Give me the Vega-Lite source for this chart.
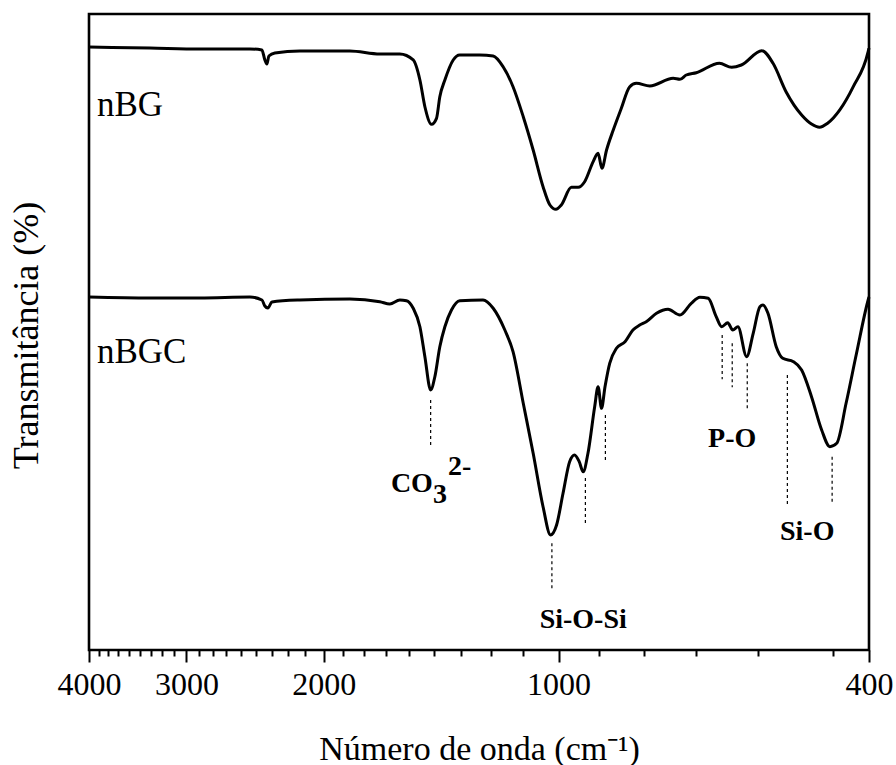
{
  "$schema": "https://vega.github.io/schema/vega-lite/v6.json",
  "width": 780,
  "height": 636,
  "autosize": {"type": "none"},
  "padding": {"left": 89, "top": 14, "right": 27, "bottom": 115},
  "background": "white",
  "datasets": {
    "spectra": [
      {"serie": "nBG", "wn": 4000, "T": 94.81}, {"serie": "nBG", "wn": 3341, "T": 94.65}, {"serie": "nBG", "wn": 2883, "T": 94.5}, {"serie": "nBG", "wn": 2487, "T": 94.5}, {"serie": "nBG", "wn": 2401, "T": 94.34}, {"serie": "nBG", "wn": 2380, "T": 92.77}, {"serie": "nBG", "wn": 2366, "T": 92.14}, {"serie": "nBG", "wn": 2352, "T": 93.4}, {"serie": "nBG", "wn": 2311, "T": 93.87}, {"serie": "nBG", "wn": 2146, "T": 94.18}, {"serie": "nBG", "wn": 1852, "T": 94.18}, {"serie": "nBG", "wn": 1695, "T": 93.71}, {"serie": "nBG", "wn": 1598, "T": 93.71}, {"serie": "nBG", "wn": 1536, "T": 92.77}, {"serie": "nBG", "wn": 1506, "T": 89.62}, {"serie": "nBG", "wn": 1484, "T": 85.42}, {"serie": "nBG", "wn": 1455, "T": 82.66}, {"serie": "nBG", "wn": 1434, "T": 83.6}, {"serie": "nBG", "wn": 1420, "T": 87.0}, {"serie": "nBG", "wn": 1399, "T": 89.62}, {"serie": "nBG", "wn": 1365, "T": 92.77}, {"serie": "nBG", "wn": 1339, "T": 93.55}, {"serie": "nBG", "wn": 1262, "T": 93.55}, {"serie": "nBG", "wn": 1213, "T": 93.4}, {"serie": "nBG", "wn": 1178, "T": 91.71}, {"serie": "nBG", "wn": 1144, "T": 88.57}, {"serie": "nBG", "wn": 1110, "T": 83.85}, {"serie": "nBG", "wn": 1078, "T": 78.62}, {"serie": "nBG", "wn": 1047, "T": 72.85}, {"serie": "nBG", "wn": 1026, "T": 69.97}, {"serie": "nBG", "wn": 1008, "T": 69.29}, {"serie": "nBG", "wn": 992, "T": 69.97}, {"serie": "nBG", "wn": 963, "T": 72.75}, {"serie": "nBG", "wn": 944, "T": 72.75}, {"serie": "nBG", "wn": 926, "T": 73.63}, {"serie": "nBG", "wn": 903, "T": 76.78}, {"serie": "nBG", "wn": 890, "T": 78.1}, {"serie": "nBG", "wn": 880, "T": 75.74}, {"serie": "nBG", "wn": 868, "T": 78.62}, {"serie": "nBG", "wn": 851, "T": 81.76}, {"serie": "nBG", "wn": 831, "T": 85.17}, {"serie": "nBG", "wn": 811, "T": 88.52}, {"serie": "nBG", "wn": 795, "T": 89.1}, {"serie": "nBG", "wn": 764, "T": 88.68}, {"serie": "nBG", "wn": 713, "T": 89.89}, {"serie": "nBG", "wn": 699, "T": 89.73}, {"serie": "nBG", "wn": 686, "T": 90.41}, {"serie": "nBG", "wn": 666, "T": 90.77}, {"serie": "nBG", "wn": 622, "T": 92.25}, {"serie": "nBG", "wn": 600, "T": 91.62}, {"serie": "nBG", "wn": 583, "T": 91.98}, {"serie": "nBG", "wn": 549, "T": 94.23}, {"serie": "nBG", "wn": 531, "T": 92.25}, {"serie": "nBG", "wn": 511, "T": 87.78}, {"serie": "nBG", "wn": 488, "T": 84.12}, {"serie": "nBG", "wn": 474, "T": 82.7}, {"serie": "nBG", "wn": 463, "T": 82.19}, {"serie": "nBG", "wn": 452, "T": 82.81}, {"serie": "nBG", "wn": 436, "T": 84.91}, {"serie": "nBG", "wn": 419, "T": 88.57}, {"serie": "nBG", "wn": 401, "T": 94.07}, {"serie": "nBG", "wn": 400, "T": 94.65},
      {"serie": "nBGC", "wn": 4000, "T": 55.5}, {"serie": "nBGC", "wn": 3341, "T": 55.35}, {"serie": "nBGC", "wn": 2883, "T": 55.35}, {"serie": "nBGC", "wn": 2487, "T": 55.5}, {"serie": "nBGC", "wn": 2401, "T": 55.03}, {"serie": "nBGC", "wn": 2380, "T": 54.09}, {"serie": "nBGC", "wn": 2359, "T": 53.77}, {"serie": "nBGC", "wn": 2331, "T": 54.72}, {"serie": "nBGC", "wn": 2146, "T": 55.03}, {"serie": "nBGC", "wn": 1852, "T": 55.19}, {"serie": "nBGC", "wn": 1695, "T": 54.76}, {"serie": "nBGC", "wn": 1646, "T": 54.4}, {"serie": "nBGC", "wn": 1598, "T": 55.03}, {"serie": "nBGC", "wn": 1567, "T": 54.92}, {"serie": "nBGC", "wn": 1536, "T": 53.73}, {"serie": "nBGC", "wn": 1506, "T": 50.83}, {"serie": "nBGC", "wn": 1484, "T": 46.12}, {"serie": "nBGC", "wn": 1459, "T": 40.88}, {"serie": "nBGC", "wn": 1441, "T": 42.97}, {"serie": "nBGC", "wn": 1420, "T": 47.69}, {"serie": "nBGC", "wn": 1399, "T": 50.83}, {"serie": "nBGC", "wn": 1372, "T": 53.46}, {"serie": "nBGC", "wn": 1339, "T": 54.92}, {"serie": "nBGC", "wn": 1250, "T": 55.03}, {"serie": "nBGC", "wn": 1213, "T": 53.73}, {"serie": "nBGC", "wn": 1172, "T": 50.31}, {"serie": "nBGC", "wn": 1144, "T": 46.9}, {"serie": "nBGC", "wn": 1110, "T": 38.79}, {"serie": "nBGC", "wn": 1078, "T": 30.93}, {"serie": "nBGC", "wn": 1047, "T": 22.53}, {"serie": "nBGC", "wn": 1024, "T": 18.08}, {"serie": "nBGC", "wn": 1006, "T": 19.65}, {"serie": "nBGC", "wn": 987, "T": 24.64}, {"serie": "nBGC", "wn": 968, "T": 29.61}, {"serie": "nBGC", "wn": 954, "T": 30.66}, {"serie": "nBGC", "wn": 941, "T": 29.61}, {"serie": "nBGC", "wn": 930, "T": 28.03}, {"serie": "nBGC", "wn": 917, "T": 30.93}, {"serie": "nBGC", "wn": 899, "T": 38.25}, {"serie": "nBGC", "wn": 890, "T": 41.4}, {"serie": "nBGC", "wn": 881, "T": 38.0}, {"serie": "nBGC", "wn": 872, "T": 41.4}, {"serie": "nBGC", "wn": 860, "T": 45.08}, {"serie": "nBGC", "wn": 843, "T": 47.44}, {"serie": "nBGC", "wn": 822, "T": 48.47}, {"serie": "nBGC", "wn": 803, "T": 50.31}, {"serie": "nBGC", "wn": 787, "T": 51.1}, {"serie": "nBGC", "wn": 772, "T": 51.62}, {"serie": "nBGC", "wn": 749, "T": 52.94}, {"serie": "nBGC", "wn": 724, "T": 53.57}, {"serie": "nBGC", "wn": 699, "T": 52.67}, {"serie": "nBGC", "wn": 676, "T": 54.51}, {"serie": "nBGC", "wn": 659, "T": 55.46}, {"serie": "nBGC", "wn": 643, "T": 55.3}, {"serie": "nBGC", "wn": 628, "T": 52.41}, {"serie": "nBGC", "wn": 618, "T": 50.83}, {"serie": "nBGC", "wn": 607, "T": 51.46}, {"serie": "nBGC", "wn": 598, "T": 50.31}, {"serie": "nBGC", "wn": 589, "T": 50.83}, {"serie": "nBGC", "wn": 574, "T": 46.12}, {"serie": "nBGC", "wn": 563, "T": 49.8}, {"serie": "nBGC", "wn": 552, "T": 53.98}, {"serie": "nBGC", "wn": 547, "T": 54.25}, {"serie": "nBGC", "wn": 539, "T": 52.94}, {"serie": "nBGC", "wn": 526, "T": 47.69}, {"serie": "nBGC", "wn": 516, "T": 45.86}, {"serie": "nBGC", "wn": 500, "T": 45.33}, {"serie": "nBGC", "wn": 488, "T": 44.03}, {"serie": "nBGC", "wn": 474, "T": 39.83}, {"serie": "nBGC", "wn": 460, "T": 34.59}, {"serie": "nBGC", "wn": 449, "T": 31.97}, {"serie": "nBGC", "wn": 440, "T": 32.5}, {"serie": "nBGC", "wn": 428, "T": 38.79}, {"serie": "nBGC", "wn": 415, "T": 46.65}, {"serie": "nBGC", "wn": 401, "T": 55.03}, {"serie": "nBGC", "wn": 400, "T": 55.5}
    ],
    "guides": [
      {"wn": 1459, "t1": 39.31, "t2": 32.23},
      {"wn": 1020, "t1": 16.78, "t2": 9.43},
      {"wn": 924, "t1": 27.04, "t2": 19.97},
      {"wn": 871, "t1": 36.95, "t2": 29.87},
      {"wn": 617, "t1": 49.53, "t2": 42.56},
      {"wn": 599, "t1": 48.22, "t2": 41.31},
      {"wn": 573, "t1": 45.08, "t2": 37.85},
      {"wn": 509, "t1": 43.24, "t2": 22.8},
      {"wn": 446, "t1": 30.39, "t2": 23.32}
    ],
    "bands": [
      {"label": "P-O", "wn": 599, "t": 31.97},
      {"label": "Si-O", "wn": 480, "t": 17.3},
      {"label": "Si-O-Si", "wn": 930, "t": 3.41},
      {"label": "CO", "wn": 1542, "t": 24.89},
      {"label": "3", "wn": 1419, "t": 23.16},
      {"label": "2-", "wn": 1339, "t": 27.52}
    ],
    "names": [
      {"label": "nBG", "wn": 3907, "t": 83.96},
      {"label": "nBGC", "wn": 3907, "t": 45.13}
    ]
  },
  "layer": [
    {
      "data": {"name": "spectra"},
      "mark": {"type": "line", "color": "black", "strokeWidth": 3, "interpolate": "monotone", "strokeJoin": "round"},
      "encoding": {
        "x": {
          "field": "wn", "type": "quantitative",
          "title": "Número de onda (cm⁻¹)",
          "scale": {"type": "log", "domain": [400, 4000], "reverse": true, "nice": false},
          "axis": {
            "orient": "bottom",
            "values": [4000, 3888.9, 3777.8, 3666.7, 3555.6, 3444.4, 3333.3, 3222.2, 3111.1, 3000, 2888.9, 2777.8, 2666.7, 2555.6, 2444.4, 2333.3, 2222.2, 2111.1, 2000, 1888.9, 1777.8, 1666.7, 1555.6, 1444.4, 1333.3, 1222.2, 1111.1, 1000, 888.9, 777.8, 666.7, 555.6, 444.4, 400],
            "tickCount": 100,
            "labelExpr": "indexof([4000, 3000, 2000, 1000, 400], datum.value) >= 0 ? format(datum.value, 'd') : ''",
            "tickSize": {"condition": {"test": "indexof([4000, 3000, 2000, 1000, 400], datum.value) >= 0", "value": 12}, "value": 6},
            "tickWidth": 2, "tickColor": "black",
            "labelPadding": 7, "labelFont": "Liberation Serif", "labelFontSize": 32, "labelColor": "black",
            "labelOverlap": false, "labelFlush": false, "labelBound": false,
            "domain": false, "grid": false,
            "title": "Número de onda (cm⁻¹)",
            "titleFont": "Liberation Serif", "titleFontSize": 34, "titleFontWeight": "normal", "titleColor": "black",
            "titleY": 109, "titleBaseline": "alphabetic"
          }
        },
        "y": {
          "field": "T", "type": "quantitative",
          "title": "Transmitância (%)",
          "scale": {"domain": [0, 100], "nice": false, "zero": false},
          "axis": {
            "labels": false, "ticks": false, "domain": false, "grid": false,
            "title": "Transmitância (%)",
            "titleFont": "Liberation Serif", "titleFontSize": 36, "titleFontWeight": "normal", "titleColor": "black",
            "titleAngle": -90, "titleX": -52, "titleY": 321, "titleBaseline": "alphabetic", "titleAlign": "center"
          }
        },
        "order": {"field": "wn", "sort": "descending"},
        "detail": {"field": "serie"}
      }
    },
    {
      "data": {"name": "guides"},
      "mark": {"type": "rule", "color": "black", "strokeWidth": 1.2, "strokeDash": [3, 3]},
      "encoding": {
        "x": {"field": "wn", "type": "quantitative", "title": "Número de onda (cm⁻¹)"},
        "y": {"field": "t1", "type": "quantitative", "title": "Transmitância (%)"},
        "y2": {"field": "t2"}
      }
    },
    {
      "data": {"name": "bands"},
      "mark": {"type": "text", "font": "Liberation Serif", "fontWeight": "bold", "fontSize": 28, "align": "center", "baseline": "alphabetic", "color": "black"},
      "encoding": {
        "x": {"field": "wn", "type": "quantitative", "title": "Número de onda (cm⁻¹)"},
        "y": {"field": "t", "type": "quantitative", "title": "Transmitância (%)"},
        "text": {"field": "label"}
      }
    },
    {
      "data": {"name": "names"},
      "mark": {"type": "text", "font": "Liberation Serif", "fontSize": 35, "align": "left", "baseline": "alphabetic", "color": "black"},
      "encoding": {
        "x": {"field": "wn", "type": "quantitative", "title": "Número de onda (cm⁻¹)"},
        "y": {"field": "t", "type": "quantitative", "title": "Transmitância (%)"},
        "text": {"field": "label"}
      }
    }
  ],
  "config": {
    "font": "Liberation Serif",
    "view": {"stroke": "black", "strokeWidth": 2.6},
    "axis": {"grid": false, "labelFont": "Liberation Serif", "titleFont": "Liberation Serif", "titleFontWeight": "normal", "titleColor": "black", "labelColor": "black"},
    "axisY": {"titleFont": "Liberation Serif", "titleFontSize": 36, "titleFontWeight": "normal"}
  }
}
